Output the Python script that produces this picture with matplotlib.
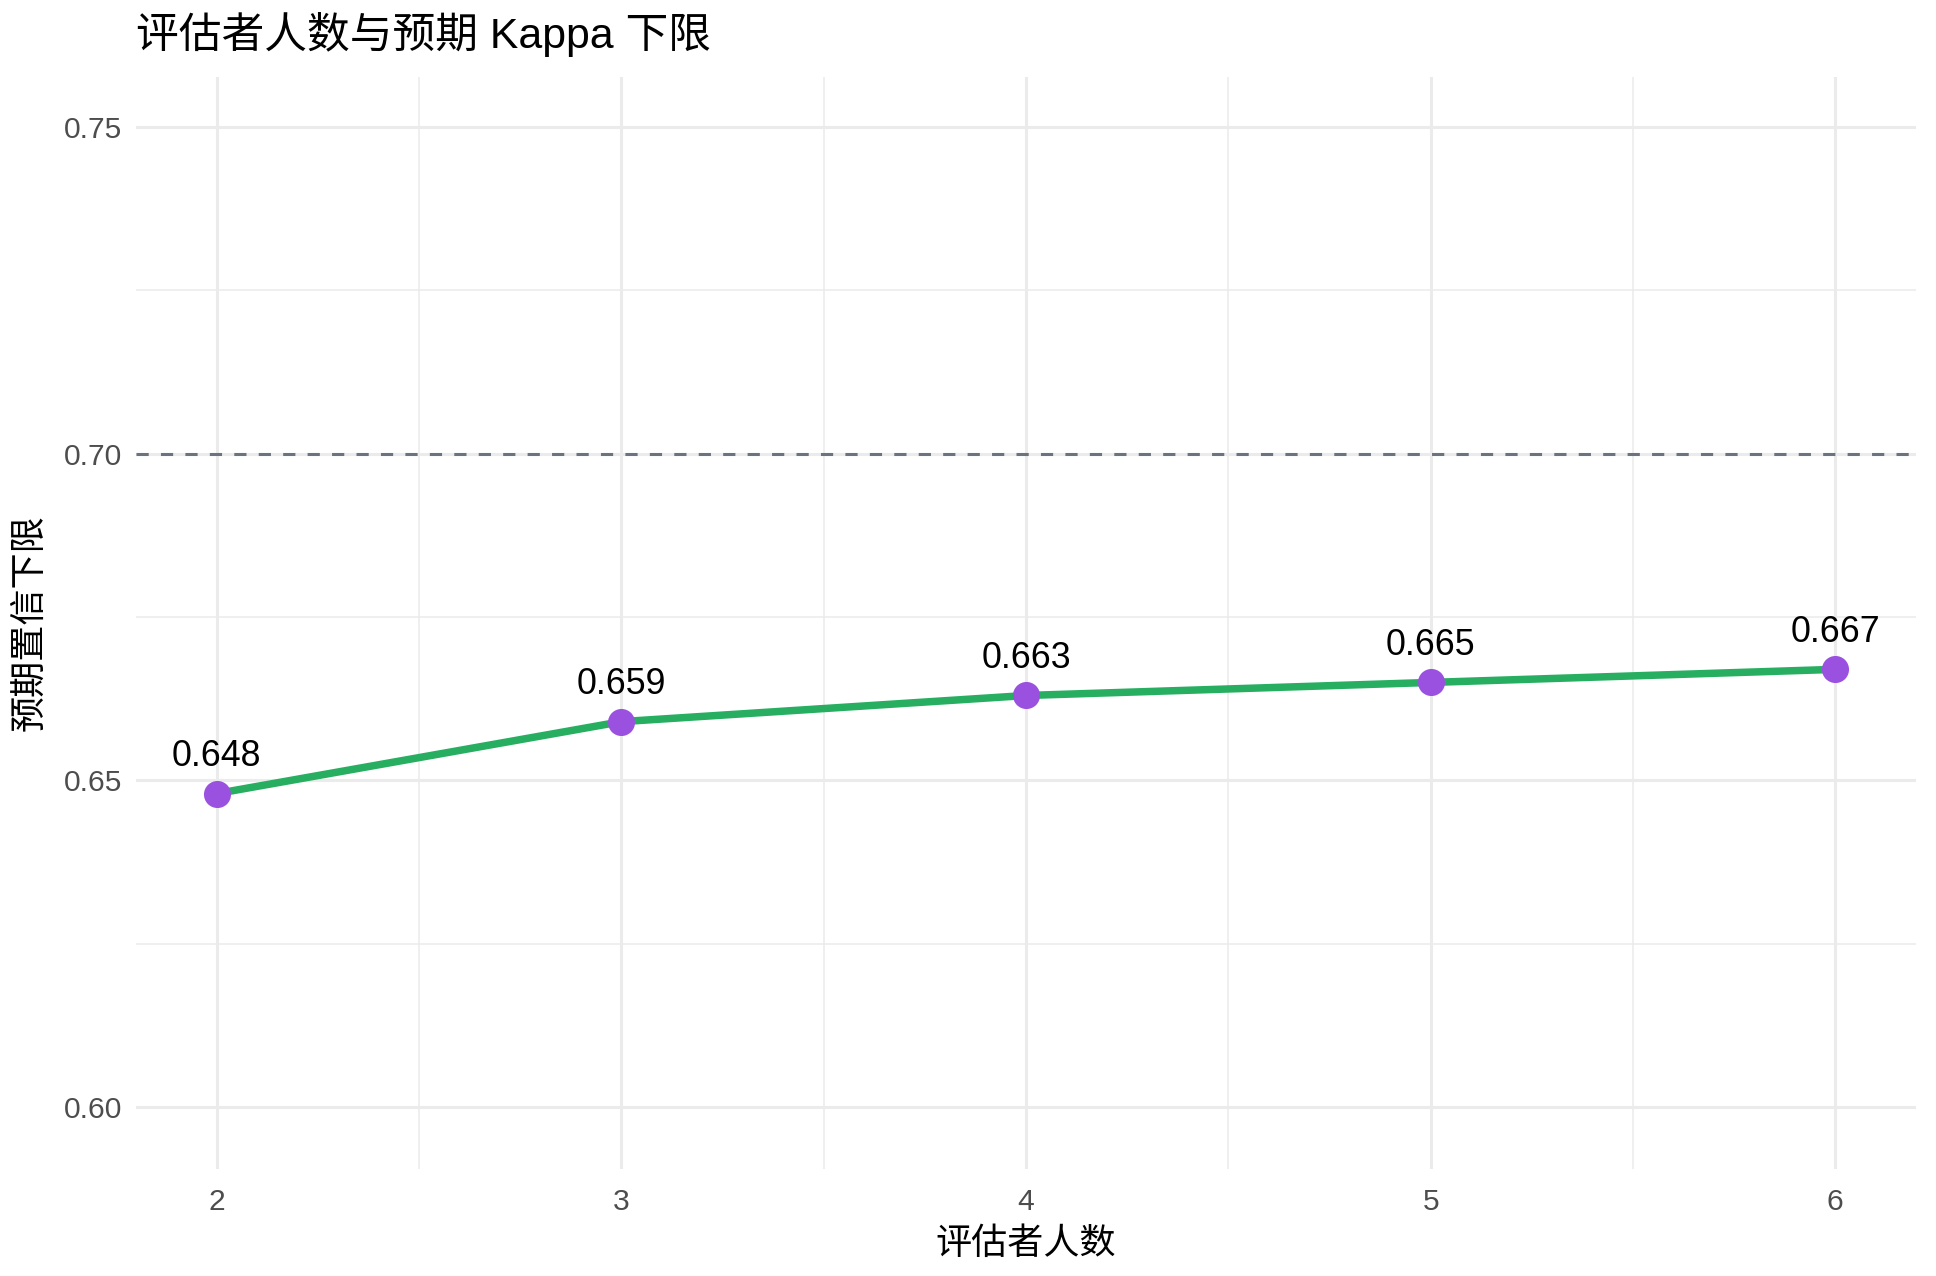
import matplotlib
matplotlib.use("Agg")
import matplotlib.pyplot as plt
from matplotlib.ticker import MultipleLocator

plt.rcParams['font.family'] = ['Liberation Sans', 'Noto Sans CJK SC', 'DejaVu Sans']

raters = [2, 3, 4, 5, 6]
kappa_lower = [0.648, 0.659, 0.663, 0.665, 0.667]
labels = ["0.648", "0.659", "0.663", "0.665", "0.667"]
threshold = 0.70
title = "评估者人数与预期 Kappa 下限"
xlabel = "评估者人数"
ylabel = "预期置信下限"

fig = plt.figure(figsize=(9.68, 6.38), dpi=200)
ax = fig.add_axes([0.0702, 0.0841, 0.9898 - 0.0702, 0.940 - 0.0841])

ax.set_xlim(1.8, 6.2)
ax.set_ylim(0.5906, 0.7577)
ax.xaxis.set_major_locator(MultipleLocator(1))
ax.xaxis.set_minor_locator(MultipleLocator(0.5))
ax.yaxis.set_major_locator(MultipleLocator(0.05))
ax.yaxis.set_minor_locator(MultipleLocator(0.025))
ax.set_yticks([0.60, 0.65, 0.70, 0.75])
ax.set_yticklabels(["0.60", "0.65", "0.70", "0.75"])

ax.grid(which='major', color='#EBEBEB', linewidth=1.1)
ax.grid(which='minor', color='#EBEBEB', linewidth=0.55)
ax.set_axisbelow(True)
for s in ax.spines.values():
    s.set_visible(False)
ax.tick_params(which='both', length=0, colors='#4D4D4D', labelsize=10.8)
ax.tick_params(axis='x', pad=7)
ax.tick_params(axis='y', pad=5)

ax.axhline(threshold, color='#6B7280', linestyle=(0, (4, 4)), linewidth=1.1, zorder=2)
ax.plot(raters, kappa_lower, color='#27AE60', linewidth=2.7, zorder=3)
ax.scatter(raters, kappa_lower, s=95, color='#9B51E0', zorder=4, linewidths=0)
for x, y, t in zip(raters, kappa_lower, labels):
    ax.annotate(t, (x, y), xytext=(0, 7), textcoords='offset points',
                ha='center', va='bottom', fontsize=12.9, color='black')

ax.set_xlabel(xlabel, fontsize=13, color='black', labelpad=4)
ax.set_ylabel(ylabel, fontsize=13, color='black', labelpad=6)
fig.text(0.0702, 0.973, title, fontsize=15.4, ha='left', va='center', color='black')

fig.savefig("out.png", dpi=200, facecolor='white')
